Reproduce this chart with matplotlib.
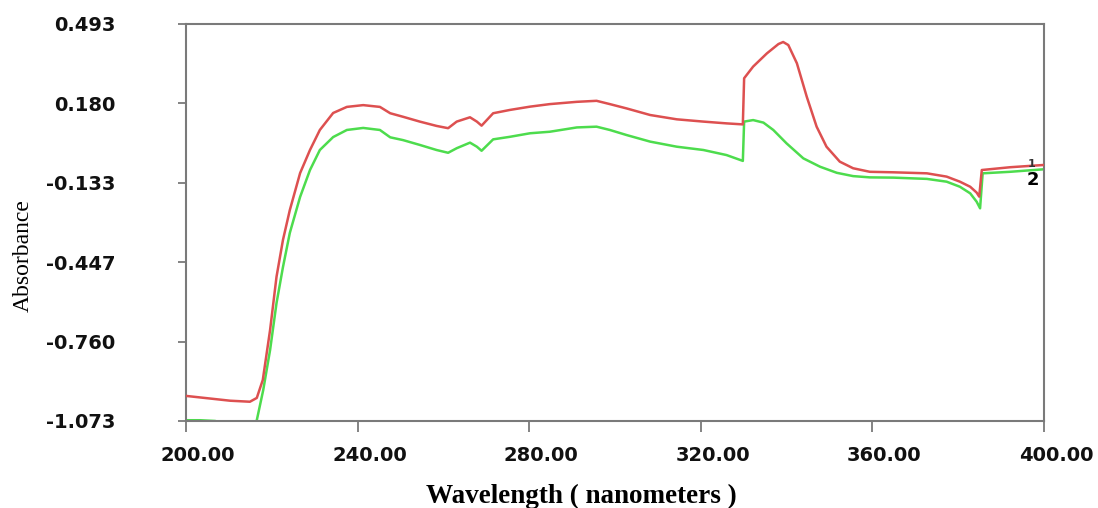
import matplotlib
matplotlib.use("Agg")
import matplotlib.pyplot as plt
import matplotlib.transforms as mtransforms

# sample 1 (red, upper trace)
red_wl = [200.0, 210.3, 214.9, 216.5, 217.9, 219.6, 221.1, 222.6, 224.2, 226.6,
          228.9, 231.2, 234.3, 237.5, 241.3, 245.2, 247.6, 250.6, 254.5, 258.4,
          261.1, 263.1, 266.2, 267.8, 268.9, 271.6, 275.5, 280.2, 284.8, 291.1,
          295.7, 298.8, 302.7, 308.2, 314.4, 320.6, 326.0, 329.8, 330.1, 332.2,
          335.4, 338.1, 339.2, 340.4, 342.4, 344.7, 347.0, 349.3, 352.4, 355.5,
          359.4, 364.9, 372.7, 377.3, 380.4, 382.8, 384.3, 384.9, 385.5, 392.1,
          400.0]
red_abs = [-0.974, -0.993, -0.997, -0.982, -0.911, -0.714, -0.504, -0.359, -0.241, -0.095,
           -0.004, 0.075, 0.142, 0.166, 0.173, 0.166, 0.141, 0.127, 0.108, 0.091,
           0.082, 0.108, 0.125, 0.108, 0.092, 0.141, 0.154, 0.167, 0.177, 0.186,
           0.190, 0.177, 0.160, 0.134, 0.117, 0.108, 0.101, 0.097, 0.279, 0.325,
           0.377, 0.414, 0.422, 0.410, 0.338, 0.206, 0.088, 0.009, -0.050, -0.076,
           -0.090, -0.092, -0.096, -0.109, -0.129, -0.149, -0.172, -0.188, -0.083, -0.072,
           -0.063]

# sample 2 (green, lower trace)
green_wl = [200.0, 203.3, 206.8, 210.0, 214.0, 216.5, 218.0, 219.6, 221.1, 222.6,
            224.2, 226.6, 228.9, 231.2, 234.3, 237.5, 241.3, 245.2, 247.6, 250.6,
            254.5, 258.4, 261.1, 263.1, 266.2, 267.8, 268.9, 271.6, 275.5, 280.2,
            284.8, 291.1, 295.7, 298.8, 302.7, 308.2, 314.4, 320.6, 326.0, 329.8,
            330.1, 332.2, 334.6, 336.9, 340.0, 343.9, 347.8, 351.7, 355.5, 359.4,
            364.9, 372.7, 377.3, 380.4, 382.8, 384.3, 385.1, 385.7, 392.1, 400.0]
green_abs = [-1.070, -1.070, -1.073, -1.090, -1.120, -1.070, -0.951, -0.793, -0.608, -0.466,
             -0.331, -0.189, -0.083, -0.004, 0.047, 0.075, 0.083, 0.075, 0.046, 0.035,
             0.016, -0.004, -0.015, 0.003, 0.025, 0.009, -0.007, 0.038, 0.048, 0.062,
             0.068, 0.085, 0.088, 0.075, 0.055, 0.029, 0.009, -0.004, -0.024, -0.047,
             0.108, 0.114, 0.104, 0.075, 0.022, -0.037, -0.070, -0.094, -0.107, -0.112,
             -0.113, -0.118, -0.129, -0.149, -0.175, -0.208, -0.234, -0.096, -0.090, -0.080]

x_ticks = [200, 240, 280, 320, 360, 400]
y_ticks = [-1.073, -0.760, -0.447, -0.133, 0.180, 0.493]

W, H = 1098, 508
fig = plt.figure(figsize=(W / 100, H / 100), dpi=100)
ax = fig.add_axes([186 / W, 1 - 421 / H, (1044 - 186) / W, (421 - 24) / H])

ax.plot(green_wl, green_abs, color="#4ddc4d", lw=1.8, zorder=2)
ax.plot(red_wl, red_abs, color="#dd5050", lw=1.8, zorder=3)

ax.set_xlim(200, 400)
ax.set_ylim(-1.073, 0.493)
ax.set_xticks(x_ticks)
ax.set_xticklabels([f"{v:.2f}" for v in x_ticks])
ax.set_yticks(y_ticks)
ax.set_yticklabels([f"{v:.3f}" for v in y_ticks])

for side in ax.spines.values():
    side.set_color("#7a7a7a")
    side.set_linewidth(1.5)
ax.tick_params(axis="y", direction="out", length=6, width=1.3, color="#7a7a7a",
               pad=45, labelsize=14, labelcolor="#111111")
ax.tick_params(axis="x", direction="out", length=8, width=1.3, color="#7a7a7a",
               pad=10, labelsize=14, labelcolor="#111111")
shift = mtransforms.ScaledTranslation(0.12, 0, fig.dpi_scale_trans)
for lab in ax.get_xticklabels():
    lab.set_fontweight("bold")
    lab.set_transform(lab.get_transform() + shift)
for lab in ax.get_yticklabels():
    lab.set_fontweight("bold")

# trace numbers at the right end
ax.text(397.0, -0.060, "1", fontsize=8, fontweight="bold", color="#333333",
        ha="center", va="center", zorder=4)
ax.text(397.4, -0.122, "2", fontsize=13, fontweight="bold", color="black",
        ha="center", va="center", zorder=5)

fig.text(23 / W, 1 - 256 / H, "Absorbance", rotation=90, ha="center", va="center",
         fontsize=17, family="Liberation Serif", color="black")
fig.text(581 / W, 1 - 503 / H, "Wavelength ( nanometers )", ha="center", va="baseline",
         fontsize=19.5, fontweight="bold", family="Liberation Serif", color="black")

fig.savefig("out.png", dpi=100)
